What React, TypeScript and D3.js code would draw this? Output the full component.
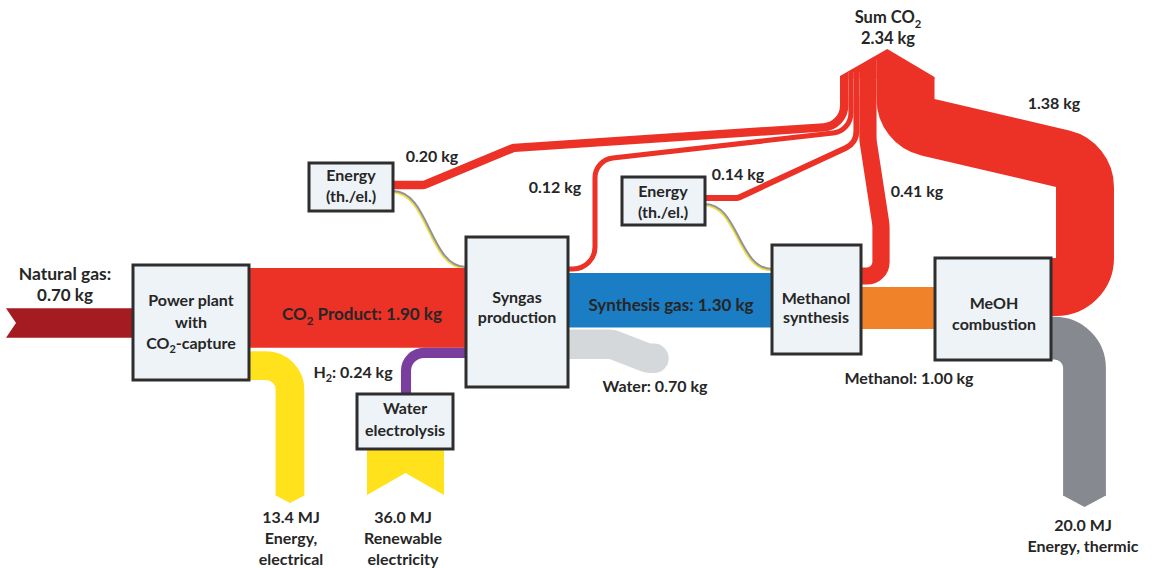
import React from 'react';
import * as d3 from 'd3';

// ---------- data ----------
const co2Sources = ['Energy (syngas)', 'Syngas production', 'Energy (methanol)', 'Methanol synthesis', 'MeOH combustion'];
const co2Kg = [0.20, 0.12, 0.14, 0.41, 1.38];
const co2SumKg = 2.34;
const massFlowNames = ['Natural gas', 'CO2 Product', 'H2', 'Synthesis gas', 'Water', 'Methanol'];
const massFlowKg = [0.70, 1.90, 0.24, 1.30, 0.70, 1.00];
const energyFlowNames = ['Energy, electrical', 'Renewable electricity', 'Energy, thermic'];
const energyFlowMJ = [13.4, 36.0, 20.0];

// ---------- scales ----------
const kgScale = d3.scaleLinear().domain([0, 1]).range([0, 42]);
const mjScale = d3.scaleLinear().domain([0, 10]).range([0, 21.4]);
const fmtKg = (v: number) => `${d3.format('.2f')(v)} kg`;
const fmtMJ = (v: number) => `${d3.format('.1f')(v)} MJ`;
const massKg = (n: string) => massFlowKg[massFlowNames.indexOf(n)];
const energy = (n: string) => energyFlowMJ[energyFlowNames.indexOf(n)];
const co2 = (n: string) => co2Kg[co2Sources.indexOf(n)];

// ---------- layout ----------
const BOX = {
  power: { x: 133, y: 265, w: 116, h: 115 },
  syngas: { x: 466, y: 237, w: 102, h: 150 },
  electrolysis: { x: 357, y: 394, w: 96, h: 55 },
  methanol: { x: 772, y: 245, w: 89, h: 109 },
  combustion: { x: 935, y: 258, w: 116, h: 102 },
  energy1: { x: 309, y: 163, w: 84, h: 48 },
  energy2: { x: 622, y: 177, w: 83, h: 48 },
};

const C = {
  red: '#ec3127',
  darkRed: '#a41c21',
  blue: '#1b7dc3',
  orange: '#f0822a',
  yellow: '#ffe21c',
  purple: '#7a3f9e',
  water: '#d4d8db',
  thermal: '#86898f',
  lineGray: '#8f9397',
  lineYellow: '#f2dc3c',
  boxFill: '#edf3f6',
  boxStroke: '#2e2e2e',
  text: '#262626',
};

const FONT = 'Lato, "Noto Sans", sans-serif';

type Pt = [number, number];
function rounded(pts: Pt[], radii: number[]): string {
  const p = d3.path();
  p.moveTo(pts[0][0], pts[0][1]);
  for (let i = 1; i < pts.length - 1; i++) {
    p.arcTo(pts[i][0], pts[i][1], pts[i + 1][0], pts[i + 1][1], radii[i - 1] ?? 0);
  }
  p.lineTo(pts[pts.length - 1][0], pts[pts.length - 1][1]);
  return p.toString();
}

const link = d3.linkHorizontal<any, Pt>().source((d: any) => d.s).target((d: any) => d.t);

function Label({ x, y, lines, size = 16, anchor = 'middle', lh = 21 }: any) {
  return (
    <text x={x} y={y} textAnchor={anchor} fontFamily={FONT} fontWeight={700} fontSize={size} fill={C.text}>
      {lines.map((l: any, i: number) => (
        <tspan key={i} x={x} y={y + i * lh + size * 0.36}>{l}</tspan>
      ))}
    </text>
  );
}

// text with a chemical subscript: pre + sub + post
function SubText({ x, y, pre, sub, post, size = 16 }: any) {
  const shift = size * 0.28;
  return (
    <text x={x} y={y + size * 0.36} textAnchor="middle" fontFamily={FONT} fontWeight={700} fontSize={size} fill={C.text}>
      <tspan>{pre}</tspan>
      <tspan dy={shift} fontSize={size * 0.68}>{sub}</tspan>
      {post ? <tspan dy={-shift}>{post}</tspan> : null}
    </text>
  );
}

function Box({ b }: any) {
  return <rect x={b.x} y={b.y} width={b.w} height={b.h} fill={C.boxFill} stroke={C.boxStroke} strokeWidth={3} />;
}

export default function App() {
  // widths
  const wNG = kgScale(massKg('Natural gas'));
  const wCO2 = kgScale(massKg('CO2 Product'));
  const wH2 = kgScale(massKg('H2'));
  const wSyn = kgScale(massKg('Synthesis gas'));
  const wWater = kgScale(massKg('Water'));
  const wMeOH = kgScale(massKg('Methanol'));
  const wEl = mjScale(energy('Energy, electrical'));
  const wRen = mjScale(energy('Renewable electricity'));
  const wTh = mjScale(energy('Energy, thermic'));

  const P = BOX.power, S = BOX.syngas, E = BOX.electrolysis, M = BOX.methanol, K = BOX.combustion;

  // CO2 product band (top aligned)
  const co2Top = 268;
  const co2Cy = co2Top + wCO2 / 2;
  const h2Cy = co2Top + wCO2 + wH2 / 2;
  const elecCx = E.x + E.w / 2 + 1;

  // natural gas
  const ngCy = P.y + P.h / 2 + 0.5;
  const ngX0 = 6;
  const ngPoly: Pt[] = [
    [ngX0, ngCy - wNG / 2], [P.x + 4, ngCy - wNG / 2], [P.x + 4, ngCy + wNG / 2], [ngX0, ngCy + wNG / 2], [ngX0 + 10, ngCy],
  ];

  // synthesis gas
  const synTop = 273;
  const synCy = synTop + wSyn / 2;
  const waterCy = synTop + wSyn + 2 + wWater / 2;

  // methanol
  const meohCy = K.y + 29 + wMeOH / 2;

  // electrical energy (yellow, down from power plant)
  const elCx = 290;
  const elCy = P.y + P.h - wEl / 2;
  const elEnd = 496;

  // renewable
  const renCx = E.x + E.w / 2 + 0.5;
  const renBottom = 495;
  const renPoly: Pt[] = [
    [renCx - wRen / 2, E.y + E.h - 4], [renCx + wRen / 2, E.y + E.h - 4], [renCx + wRen / 2, renBottom], [renCx, renBottom - 22], [renCx - wRen / 2, renBottom],
  ];

  // thermal
  const thCy = K.y + K.h - wTh / 2 - 0.4;
  const thCx = 1084.5;
  const thEnd = 496;

  // CO2 collector
  const colX0 = 840;
  const colBase = 78;
  const co2W = co2Kg.map((v) => kgScale(v));
  const colX: number[] = [];
  co2W.reduce((acc, w) => { colX.push(acc + w / 2); return acc + w; }, colX0);
  const colX1 = colX0 + d3.sum(co2W);
  const colMid = (colX0 + colX1) / 2;
  const wComb = kgScale(co2('MeOH combustion'));

  const co2Paths = [
    { w: co2W[0], d: rounded([[BOX.energy1.x + BOX.energy1.w - 6, 185], [424, 185], [513, 148], [colX[0], 126], [colX[0], colBase]], [8, 8, 22]) },
    { w: co2W[1], d: rounded([[S.x + S.w - 8, 269], [595, 269], [595, 160], [colX[1], 131], [colX[1], colBase]], [22, 20, 20]) },
    { w: co2W[2], d: rounded([[BOX.energy2.x + BOX.energy2.w - 6, 198], [738, 198], [colX[2], 143], [colX[2], colBase]], [8, 18]) },
    { w: co2W[3], d: rounded([[colX[3], colBase], [colX[3], 140], [881, 225], [881, 276], [M.x + M.w - 6, 276]], [40, 40, 14]) },
    { w: wComb, d: rounded([[colX[4], colBase], [colX[4], 122], [1085, 164], [1085, K.y + wComb / 2], [K.x + K.w - 6, K.y + wComb / 2]], [29, 29, 29]) },
  ];

  const e1s: Pt = [BOX.energy1.x + BOX.energy1.w, 191];
  const e1t: Pt = [S.x, 267];
  const e2s: Pt = [BOX.energy2.x + BOX.energy2.w, 204];
  const e2t: Pt = [M.x, 269];

  return (
    <div style={{ position: 'fixed', left: 0, top: 0 }}>
      <svg width={1157} height={568} viewBox="0 0 1157 568" style={{ display: 'block', background: '#fff' }}>
        {/* energy supply lines */}
        <g fill="none">
          <path d={link({ s: [e1s[0], e1s[1] + 1.3], t: [e1t[0], e1t[1] + 1.3] } as any) || ''} stroke={C.lineYellow} strokeWidth={1.8} transform="translate(-1.2,0)" />
          <path d={link({ s: e1s, t: e1t } as any) || ''} stroke={C.lineGray} strokeWidth={2} />
          <path d={link({ s: [e2s[0], e2s[1] + 1.3], t: [e2t[0], e2t[1] + 1.3] } as any) || ''} stroke={C.lineYellow} strokeWidth={1.8} transform="translate(-1.2,0)" />
          <path d={link({ s: e2s, t: e2t } as any) || ''} stroke={C.lineGray} strokeWidth={2} />
        </g>

        {/* natural gas */}
        <polygon points={ngPoly.map((p) => p.join(',')).join(' ')} fill={C.darkRed} />

        {/* CO2 product */}
        <path d={`M${P.x + P.w - 4},${co2Cy}H${S.x + 4}`} stroke={C.red} strokeWidth={wCO2} fill="none" />

        {/* electrical energy out */}
        <path d={rounded([[P.x + P.w - 4, elCy], [elCx, elCy], [elCx, elEnd]], [24])} stroke={C.yellow} strokeWidth={wEl} fill="none" />
        <polygon points={[[elCx - wEl / 2, elEnd - 0.5], [elCx, elEnd + 7], [elCx + wEl / 2, elEnd - 0.5]].map((p) => p.join(',')).join(' ')} fill={C.yellow} />

        {/* renewable electricity */}
        <polygon points={renPoly.map((p) => p.join(',')).join(' ')} fill={C.yellow} />

        {/* H2 */}
        <path d={rounded([[elecCx, E.y + 6], [elecCx, h2Cy], [S.x + 4, h2Cy]], [18])} stroke={C.purple} strokeWidth={wH2} fill="none" />

        {/* water */}
        <path d={rounded([[S.x + S.w - 10, waterCy], [612, waterCy], [648, waterCy + 14], [654, waterCy + 14]], [20, 10])} stroke={C.water} strokeWidth={wWater} fill="none" strokeLinecap="round" />

        {/* synthesis gas */}
        <path d={`M${S.x + S.w - 4},${synCy}H${M.x + 4}`} stroke={C.blue} strokeWidth={wSyn} fill="none" />

        {/* methanol */}
        <path d={`M${M.x + M.w - 4},${meohCy}H${K.x + 4}`} stroke={C.orange} strokeWidth={wMeOH} fill="none" />

        {/* thermal energy */}
        <path d={rounded([[K.x + K.w - 6, thCy], [thCx, thCy], [thCx, thEnd]], [30])} stroke={C.thermal} strokeWidth={wTh} fill="none" />
        <polygon points={[[thCx - wTh / 2, thEnd - 0.5], [thCx, thEnd + 11], [thCx + wTh / 2, thEnd - 0.5]].map((p) => p.join(',')).join(' ')} fill={C.thermal} />

        {/* CO2 emissions */}
        {co2Paths.map((c, i) => (
          <path key={i} d={c.d} stroke={C.red} strokeWidth={c.w} fill="none" />
        ))}
        <polygon points={[[colX0, colBase + 1], [colX0, 76], [colMid, 49], [colX1, 77], [colX1, colBase + 1]].map((p) => p.join(',')).join(' ')} fill={C.red} />
        {/* faint seams between merged CO2 streams */}
        {colX.slice(0, 4).map((x, i) => (
          <line key={i} x1={x + co2W[i] / 2} x2={x + co2W[i] / 2} y1={i === 3 ? 60 : 72} y2={i === 3 ? 104 : 96} stroke="#f47a6e" strokeWidth={0.8} opacity={0.6} />
        ))}

        {/* boxes */}
        {Object.values(BOX).map((b, i) => <Box key={i} b={b} />)}

        {/* texts */}
        <Label x={65} y={274} lines={['Natural gas:']} size={17.5} />
        <Label x={65} y={295} lines={[fmtKg(massKg('Natural gas'))]} size={17} />
        <Label x={191} y={300} lines={['Power plant', 'with']} lh={22} />
        <SubText x={191} y={343} pre="CO" sub="2" post="-capture" />
        <SubText x={362} y={314} pre="CO" sub="2" post={` Product: ${fmtKg(massKg('CO2 Product'))}`} size={17} />
        <SubText x={353} y={372} pre="H" sub="2" post={`: ${fmtKg(massKg('H2'))}`} />
        <Label x={405} y={408} lines={['Water', 'electrolysis']} lh={22} />
        <Label x={291} y={517} lines={[fmtMJ(energy('Energy, electrical')), 'Energy,', 'electrical']} />
        <Label x={403} y={517} lines={[fmtMJ(energy('Renewable electricity')), 'Renewable', 'electricity']} />
        <Label x={517} y={297} lines={['Syngas', 'production']} lh={20} />
        <Label x={671} y={305} lines={[`Synthesis gas: ${fmtKg(massKg('Synthesis gas'))}`]} size={17} />
        <Label x={655} y={386} lines={[`Water: ${fmtKg(massKg('Water'))}`]} />
        <Label x={816} y={298} lines={['Methanol', 'synthesis']} lh={19} />
        <Label x={994} y={303} lines={['MeOH', 'combustion']} lh={21} />
        <Label x={909} y={378} lines={[`Methanol: ${fmtKg(massKg('Methanol'))}`]} />
        <Label x={1083} y={525} lines={[fmtMJ(energy('Energy, thermic')), 'Energy, thermic']} />
        <Label x={351} y={175} lines={['Energy', '(th./el.)']} lh={21} size={16} />
        <Label x={663} y={191} lines={['Energy', '(th./el.)']} lh={21} size={16} />
        <Label x={432} y={156} lines={[fmtKg(co2('Energy (syngas)'))]} />
        <Label x={555} y={187} lines={[fmtKg(co2('Syngas production'))]} />
        <Label x={738} y={174} lines={[fmtKg(co2('Energy (methanol)'))]} />
        <Label x={917} y={191} lines={[fmtKg(co2('Methanol synthesis'))]} />
        <Label x={1054} y={103} lines={[fmtKg(co2('MeOH combustion'))]} />
        <SubText x={888} y={17} pre="Sum CO" sub="2" size={16.5} />
        <Label x={888} y={38} lines={[fmtKg(co2SumKg)]} size={16.5} />
      </svg>
    </div>
  );
}
